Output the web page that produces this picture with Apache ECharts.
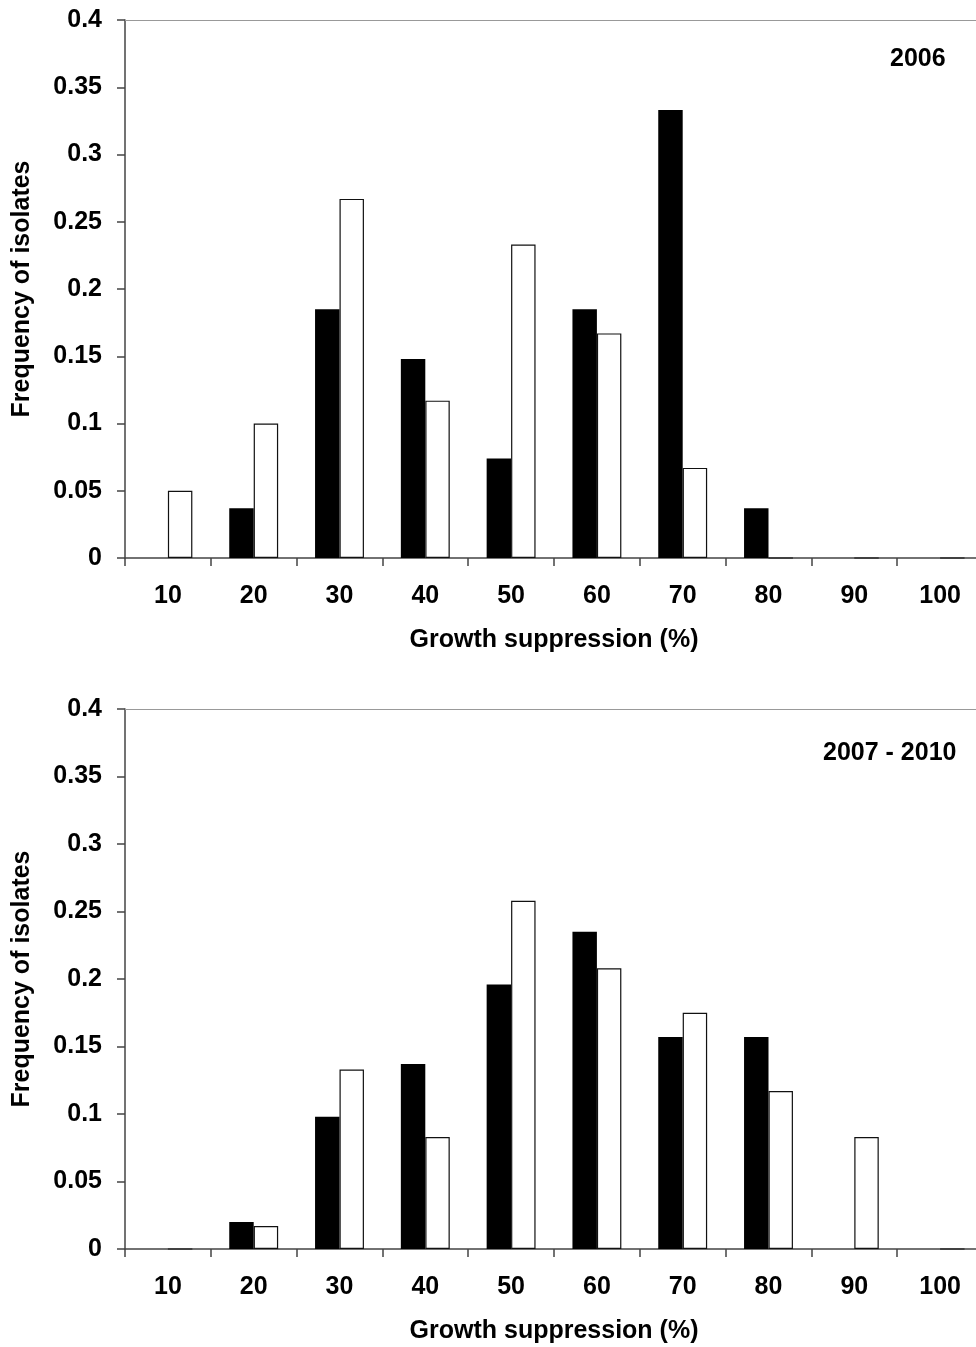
<!DOCTYPE html>
<html>
<head>
<meta charset="utf-8">
<script src="https://cdn.jsdelivr.net/npm/echarts@6/dist/echarts.min.js"></script>
<style>
html,body{margin:0;padding:0;background:#fff;overflow:hidden;}
#chart{width:983px;height:1347px;}
</style>
</head>
<body>
<div id="chart"></div>
<script>
const categories = ['10','20','30','40','50','60','70','80','90','100'];
const yTicks = [0, 0.05, 0.1, 0.15, 0.2, 0.25, 0.3, 0.35, 0.4];
const panelTitles = ['2006', '2007 - 2010'];
const black2006 = [0, 0.037, 0.185, 0.148, 0.074, 0.185, 0.333, 0.037, 0, 0];
const white2006 = [0.05, 0.1, 0.267, 0.117, 0.233, 0.167, 0.067, 0, 0, 0];
const black2007 = [0, 0.02, 0.098, 0.137, 0.196, 0.235, 0.157, 0.157, 0, 0];
const white2007 = [0, 0.017, 0.133, 0.083, 0.258, 0.208, 0.175, 0.117, 0.083, 0];

const FONT = "'Liberation Sans', Arial, sans-serif";
const FS = 25;
const chart = echarts.init(document.getElementById('chart'), null, {renderer:'canvas'});

function xAx(i){
  return {
    type:'category', gridIndex:i, data:categories, boundaryGap:true,
    axisLine:{show:true, lineStyle:{color:'#444', width:1.5}},
    axisTick:{show:true, length:8, alignWithLabel:false, lineStyle:{color:'#444', width:1.5}},
    axisLabel:{show:true, margin:26, color:'#000', fontSize:FS, fontWeight:'bold', fontFamily:FONT},
    name:'Growth suppression (%)', nameLocation:'middle', nameGap:70,
    nameTextStyle:{color:'#000', fontSize:FS, fontWeight:'bold', fontFamily:FONT},
    splitLine:{show:false}
  };
}
function xTop(i){
  return {
    type:'category', gridIndex:i, data:categories, position:'top',
    axisLine:{show:true, lineStyle:{color:'#999', width:1}},
    axisTick:{show:false}, axisLabel:{show:false}, splitLine:{show:false}
  };
}
function yAx(i){
  return {
    type:'value', gridIndex:i, min:yTicks[0], max:yTicks[yTicks.length-1], interval:yTicks[1]-yTicks[0],
    axisLine:{show:true, lineStyle:{color:'#444', width:1.5}},
    axisTick:{show:true, length:8, lineStyle:{color:'#444', width:1.5}},
    axisLabel:{show:true, margin:23, color:'#000', fontSize:FS, fontWeight:'bold', fontFamily:FONT},
    splitLine:{show:false},
    name:'Frequency of isolates', nameLocation:'middle', nameGap:90, nameRotate:90,
    nameTextStyle:{color:'#000', fontSize:FS, fontWeight:'bold', fontFamily:FONT}
  };
}
function bars(data, i, fill){
  return {
    type:'bar', xAxisIndex:i, yAxisIndex:i, data:data,
    barGap:'0%', barCategoryGap:'43%',
    itemStyle:{color:fill, borderColor:'#111', borderWidth: fill === '#fff' ? 1.2 : 0},
    animation:false, silent:true
  };
}

chart.setOption({
  animation:false,
  backgroundColor:'#fff',
  grid:[
    {left:125, top:20, right:0, height:538, show:false, containLabel:false},
    {left:125, top:709, right:0, height:540, show:false, containLabel:false}
  ],
  xAxis:[xAx(0), xAx(1), xTop(0), xTop(1)],
  yAxis:[yAx(0), yAx(1)],
  series:[
    bars(black2006, 0, '#000'), bars(white2006, 0, '#fff'),
    bars(black2007, 1, '#000'), bars(white2007, 1, '#fff')
  ],
  graphic:[
    {type:'text', left:890, top:47, style:{text:panelTitles[0], fill:'#000', font:`bold ${FS}px ${FONT}`}},
    {type:'text', left:823, top:741, style:{text:panelTitles[1], fill:'#000', font:`bold ${FS}px ${FONT}`}}
  ]
});
</script>
</body>
</html>
